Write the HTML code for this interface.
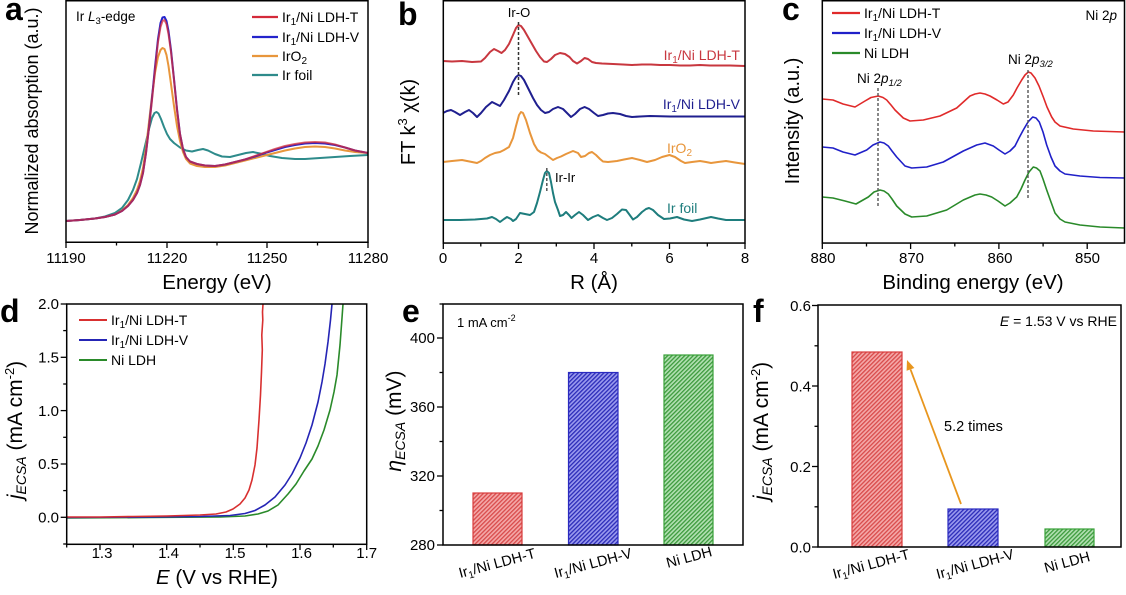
<!DOCTYPE html>
<html><head><meta charset="utf-8"><style>
html,body{margin:0;padding:0;background:#fff;}
svg{display:block;font-family:"Liberation Sans",Arial,sans-serif;}
</style></head><body>
<svg width="1126" height="595" viewBox="0 0 1126 595" xmlns="http://www.w3.org/2000/svg">
<defs>
<pattern id="hR" patternUnits="userSpaceOnUse" width="3" height="3" patternTransform="rotate(45)"><rect width="3" height="3" fill="#f4a8a8"/><rect width="1.3" height="3" fill="#d84a4a"/></pattern>
<pattern id="hB" patternUnits="userSpaceOnUse" width="3" height="3" patternTransform="rotate(45)"><rect width="3" height="3" fill="#9a9aee"/><rect width="1.3" height="3" fill="#2a2ab8"/></pattern>
<pattern id="hG" patternUnits="userSpaceOnUse" width="3" height="3" patternTransform="rotate(45)"><rect width="3" height="3" fill="#b2e0b2"/><rect width="1.3" height="3" fill="#3c9a3c"/></pattern>
</defs>
<rect width="1126" height="595" fill="#fff"/>

<!-- ============ Panel a ============ -->
<g fill="none" stroke-width="2" stroke-linejoin="round">
<polyline stroke="#2e8b8b" points="66,221 80,220 95,218.5 105,216.5 115,213 122,208 128,200 133,190 137,179 141,163 145,146 149,129 152,118 154.5,113 156.5,112 158.5,113.5 161,119 164,127 167,134 170,139 174,143 180,147.5 186,150.5 192,151.5 198,150 203,149 208,150.5 215,154 222,156.5 230,157 238,155 246,153 253,152 260,153.5 270,156 282,158 295,159 305,159 320,158 335,157 350,156 368,155"/>
<polyline stroke="#e8963c" points="66,221 80,220 95,218.5 105,217 115,214.5 122,210.5 128,205 133,198 137,190 140,181 143,168 146,148 149,122 152,96 155,73 158,57 160.5,50 162.5,48 164.5,49 166.5,55 168.5,66 171,84 174,106 177,126 180,141 183,152 186,159 190,163.5 197,166 205,167 215,167 225,165.5 235,163 245,160.5 255,158 265,155.5 275,153 285,150.5 295,148.5 305,147 315,146.5 325,147 335,148.5 345,150.5 355,152 368,153"/>
<polyline stroke="#2424cc" points="66,221 80,220 95,218.5 105,217 115,214.5 122,211 128,206 133,200 137,193 140,185 143,173 146,153 149,127 152,98 155,67 158,39 160.5,23 162.5,17.5 164.5,17 166.5,21 168.5,31 171,50 174,79 177,109 180,134 183,149 186,157 190,161.5 197,164 205,165.5 215,166 225,164.5 235,162 245,159.5 255,156.5 265,153 275,150 285,147 295,145 305,143.5 315,143 325,143.5 335,145 345,147.5 355,150.5 368,153"/>
<polyline stroke="#d42a3a" stroke-opacity="0.75" points="66,221 80,220 95,218.5 105,217 115,214.5 122,211 128,206 133,200 137,193 140,185 143,173 146,153 149,128 152,100 155,70 158,42 160.5,27 162.5,21 164.5,20 166.5,24 168.5,34 171,52 174,80 177,110 180,134 183,149 186,157 190,161.5 197,164 205,165.5 215,166 225,164.5 235,162 245,159.5 255,156 265,152.5 275,149 285,146 295,144 305,142.5 315,142 325,142.5 335,144.5 345,147.5 355,150.5 368,153"/>
</g>
<rect x="66" y="0.75" width="302" height="241.5" fill="none" stroke="#000" stroke-width="1.5"/>
<g stroke="#000" stroke-width="1.3">
<line x1="66" y1="242" x2="66" y2="248"/><line x1="167" y1="242" x2="167" y2="248"/><line x1="267" y1="242" x2="267" y2="248"/><line x1="368" y1="242" x2="368" y2="248"/>
<line x1="116.5" y1="242" x2="116.5" y2="245.5"/><line x1="217" y1="242" x2="217" y2="245.5"/><line x1="317.5" y1="242" x2="317.5" y2="245.5"/>
</g>
<g font-size="15" text-anchor="middle" fill="#000">
<text x="66" y="263">11190</text><text x="167" y="263">11220</text><text x="267" y="263">11250</text><text x="368" y="263">11280</text>
</g>
<text x="217" y="289" font-size="20.5" text-anchor="middle">Energy (eV)</text>
<text transform="translate(32,121) rotate(-90)" font-size="18" text-anchor="middle" dy="6">Normalized absorption (a.u.)</text>
<text x="76" y="21" font-size="13.5">Ir <tspan font-style="italic">L</tspan><tspan dy="3" font-size="9.5">3</tspan><tspan dy="-3">-edge</tspan></text>
<g stroke-width="2.2">
<line x1="252" y1="17" x2="278" y2="17" stroke="#d42a3a"/>
<line x1="252" y1="37" x2="278" y2="37" stroke="#2424cc"/>
<line x1="252" y1="56" x2="278" y2="56" stroke="#e8963c"/>
<line x1="252" y1="75" x2="278" y2="75" stroke="#2e8b8b"/>
</g>
<g font-size="14">
<text x="282" y="22">Ir<tspan dy="3" font-size="10">1</tspan><tspan dy="-3">/Ni LDH-T</tspan></text>
<text x="282" y="42">Ir<tspan dy="3" font-size="10">1</tspan><tspan dy="-3">/Ni LDH-V</tspan></text>
<text x="282" y="61">IrO<tspan dy="3" font-size="10">2</tspan></text>
<text x="282" y="80">Ir foil</text>
</g>
<text x="5" y="20" font-size="32" font-weight="bold">a</text>

<!-- ============ Panel b ============ -->
<g fill="none" stroke-width="2" stroke-linejoin="round">
<polyline stroke="#c8373f" points="443,61 452,61.5 462,61 472,62 481,61.5 485,58 490,52 494,49 498,51 501.5,53 505,50 509,44 513,35 516,28 518.5,25 521,26 524,30 528,37 532,44 536,51 540,57 544,61.5 547,62 551,59 555,55 560,53 565,54 569.5,57 573,61 577,63.5 581,61 584.6,58 588,59 592,62 596,63 602,63.5 613,64 623,64.5 632,65 642,64.5 651,64.5 660,65 670,65 680,65.5 690,65.5 700,65 710,65.5 720,65.5 730,65.5 745,66"/>
<polyline stroke="#1f1f8f" points="443,113 447,111 451,110 455,112 460,115 465,112 469,110 473,113 477,117 481,113 486,107 492,102 496,104 500,106 504,100 509,91 513,82 516,77 518.5,75 521,76 524,80 528,88 533,98 537,105 541,110 545,113 549,112 553,109 558,107 563,109 567,113 571,117 575,114 580,109 584.6,107 589,109 594,113 598,116 603,115 608,113.5 613,113 620,114 626,116 632,117 640,116.5 650,116 670,116.5 690,116.5 710,116.5 745,116.5"/>
<polyline stroke="#e8963c" points="443,162 452,161 462,160 472,162 477,163 481,161 485,158 490,155 495,153 500,152 504,150 509,147 513,138 516,126 519,115 521,112 523,113 526,120 530,133 534,144 537.5,150 541,152.5 545,154 549,157 553,160 557,158 561,156.5 566,154 573,151 578,153 581,157 585,156 589,153 592,152 596,155 600,159 603,161.5 608,162 617,161 624,159.5 632,158 640,160 647,162 655,160 662,157 669.5,155 675,157 681,161 685,163 692,162 700,161 706,162 711,163 718,162 726,161 735,162.5 745,164"/>
<polyline stroke="#1e7d7d" points="443,220 460,220 475,219.5 481,219 487,218.5 492,217 496,219 500,222 504,219 507,217 511,219 513,221 516,219 520,213 525,214 530,215 534,212 537,203 540,192 543,180 545,173 546.8,171 549,173 551,182 553,193 555,202 558,210 560,216 563,215 566,212 569,215 571.5,218 575,215 579,212 583,215 588,220 593,217 598,215 603,218 607,220 612,218 617,214 622,209.5 626,210 629,214 633,219.5 637,217 642,212 646,209 649,208 653,210 658,215 664,219 670,218.5 677,217 684,219.5 692,221 700,219.5 711,217 718,218.5 726,220 735,220 745,220"/>
</g>
<line x1="518.5" y1="22" x2="518.5" y2="95" stroke="#333" stroke-width="1.5" stroke-dasharray="3,2"/>
<line x1="546.8" y1="168" x2="546.8" y2="193" stroke="#555" stroke-width="1.5" stroke-dasharray="3,2"/>
<text x="519" y="17" font-size="13" text-anchor="middle">Ir-O</text>
<text x="555" y="182" font-size="13">Ir-Ir</text>
<g font-size="14">
<text x="740" y="60" text-anchor="end" fill="#c8373f">Ir<tspan dy="3" font-size="10">1</tspan><tspan dy="-3">/Ni LDH-T</tspan></text>
<text x="740" y="109" text-anchor="end" fill="#1f1f8f">Ir<tspan dy="3" font-size="10">1</tspan><tspan dy="-3">/Ni LDH-V</tspan></text>
<text x="667" y="153" fill="#e8963c">IrO<tspan dy="3" font-size="10">2</tspan></text>
<text x="667" y="213" fill="#1e7d7d">Ir  foil</text>
</g>
<rect x="443.3" y="0.75" width="301.7" height="242.3" fill="none" stroke="#000" stroke-width="1.5"/>
<g stroke="#000" stroke-width="1.3">
<line x1="443.3" y1="243" x2="443.3" y2="249"/><line x1="518.5" y1="243" x2="518.5" y2="249"/><line x1="594" y1="243" x2="594" y2="249"/><line x1="669.5" y1="243" x2="669.5" y2="249"/><line x1="745" y1="243" x2="745" y2="249"/>
<line x1="480.8" y1="243" x2="480.8" y2="246.5"/><line x1="556.3" y1="243" x2="556.3" y2="246.5"/><line x1="631.8" y1="243" x2="631.8" y2="246.5"/><line x1="707.3" y1="243" x2="707.3" y2="246.5"/>
</g>
<g font-size="15" text-anchor="middle">
<text x="443" y="263">0</text><text x="518.5" y="263">2</text><text x="594" y="263">4</text><text x="669.5" y="263">6</text><text x="745" y="263">8</text>
</g>
<text x="594" y="289" font-size="20.5" text-anchor="middle">R (Å)</text>
<text transform="translate(408,122) rotate(-90)" font-size="20" text-anchor="middle" dy="7">FT k<tspan dy="-8" font-size="13">3</tspan><tspan dy="8"> χ(k)</tspan></text>
<text x="398" y="25" font-size="32" font-weight="bold">b</text>

<!-- ============ Panel c ============ -->
<g fill="none" stroke-width="1.6" stroke-linejoin="round">
<polyline stroke="#e02a2a" points="822.3,99 833,100 843,104 855,107 865,101 871,97.5 878.3,96 883,97.5 886.7,100 891,105 895,110 903.3,118 910,121 923.3,120 940,116 956.7,108 970,96 975,94 980,93 985,94 990,96 997,100 1003.3,104 1008,102 1013.3,95 1017,88 1021.7,80 1025,75 1028.3,72 1031,73 1035,78 1039,86 1043.3,97 1047,107 1051.7,117 1055,122 1060,126 1073.3,129 1093.3,131 1124.5,132"/>
<polyline stroke="#2020c8" points="822.3,147 833,148 843,152 855,155 866.7,150 873,145 880,142 884,143 888.3,146 892,151 896.7,157 905,166 911.7,168 926.7,167 943.3,162 963.3,151 976.7,145 985,143 993.3,146 999,150 1005,154 1010,151 1015,146 1019,138 1023.3,130 1028,122 1032.7,117 1036,118 1039.3,122 1043,132 1046.7,145 1051,157 1055,166 1060,171 1065,174 1080,176 1100,177.5 1124.5,178"/>
<polyline stroke="#2a8a2a" points="822.3,197 833,198 845,201 856,204 868.3,197 874,192 880,190 884,191 888.3,194 892,199 896.7,206 905,214 911.7,217 926.7,216 946.7,210 963.3,200 975,195 980,194 986,195 991.7,197 998,201 1005,206 1010,203 1016.7,197 1021,189 1025,180 1029,172 1033.3,167 1036.5,168 1040,171 1043,179 1046.7,190 1051,202 1055,213 1060,219 1065,222 1080,225 1100,227 1124.5,228"/>
</g>
<line x1="878" y1="88" x2="878" y2="207" stroke="#555" stroke-width="1.4" stroke-dasharray="3,2"/>
<line x1="1028" y1="70" x2="1028" y2="200" stroke="#555" stroke-width="1.4" stroke-dasharray="3,2"/>
<text x="857" y="83" font-size="13.5">Ni 2<tspan font-style="italic">p</tspan><tspan dy="3" font-size="9.5" font-style="italic">1/2</tspan></text>
<text x="1008" y="64" font-size="13.5">Ni 2<tspan font-style="italic">p</tspan><tspan dy="3" font-size="9.5" font-style="italic">3/2</tspan></text>
<text x="1117" y="20" font-size="13.5" text-anchor="end">Ni 2<tspan font-style="italic">p</tspan></text>
<g stroke-width="2.2">
<line x1="832" y1="13" x2="860" y2="13" stroke="#e02a2a"/>
<line x1="832" y1="33" x2="860" y2="33" stroke="#2020c8"/>
<line x1="832" y1="53" x2="860" y2="53" stroke="#2a8a2a"/>
</g>
<g font-size="14">
<text x="864" y="18">Ir<tspan dy="3" font-size="10">1</tspan><tspan dy="-3">/Ni LDH-T</tspan></text>
<text x="864" y="38">Ir<tspan dy="3" font-size="10">1</tspan><tspan dy="-3">/Ni LDH-V</tspan></text>
<text x="864" y="58">Ni LDH</text>
</g>
<rect x="822.3" y="0.75" width="302.2" height="242.3" fill="none" stroke="#000" stroke-width="1.5"/>
<g stroke="#000" stroke-width="1.3">
<line x1="822.3" y1="243" x2="822.3" y2="249"/><line x1="910.6" y1="243" x2="910.6" y2="249"/><line x1="998.9" y1="243" x2="998.9" y2="249"/><line x1="1087.2" y1="243" x2="1087.2" y2="249"/>
<line x1="866.5" y1="243" x2="866.5" y2="246.5"/><line x1="954.8" y1="243" x2="954.8" y2="246.5"/><line x1="1043.1" y1="243" x2="1043.1" y2="246.5"/>
</g>
<g font-size="15" text-anchor="middle">
<text x="823" y="263">880</text><text x="911.5" y="263">870</text><text x="1000" y="263">860</text><text x="1087.5" y="263">850</text>
</g>
<text x="973" y="289" font-size="20.5" text-anchor="middle">Binding energy (eV)</text>
<text transform="translate(792,121) rotate(-90)" font-size="20" text-anchor="middle" dy="7">Intensity (a.u.)</text>
<text x="782" y="20" font-size="32" font-weight="bold">c</text>

<!-- ============ Panel d ============ -->
<g fill="none" stroke-width="1.6" stroke-linejoin="round">
<polyline stroke="#2a8a2a" points="66.7,518 150,517.5 220,517 245,516 258,514 268,511 278,505 288,494 296,484 304,471 312,459 318,446 324,430 330,410 334,392 337,375 340,345 342,318 343,304"/>
<polyline stroke="#2525b5" points="66.7,517.5 150,517 200,516.5 230,515.5 245,513.5 255,510.5 265,505 275,497 285,485 292,474 300,458 306,443 312,425 318,402 322,382 325,364 328,342 330.5,320 332,304"/>
<polyline stroke="#d83030" points="66.7,517 100,517 133,516.5 166.7,516 200,515 216,514 226,512 233,509 240,504 245,498 249,490 252,480 255,465 257,448 259,420 260.5,395 261.5,372 262.3,350 261.8,335 262.8,320 262.5,312 263,304"/>
</g>
<g stroke-width="2">
<line x1="79" y1="320" x2="107" y2="320" stroke="#d83030"/>
<line x1="79" y1="340" x2="107" y2="340" stroke="#2525b5"/>
<line x1="79" y1="360" x2="107" y2="360" stroke="#2a8a2a"/>
</g>
<g font-size="14">
<text x="111" y="325">Ir<tspan dy="3" font-size="10">1</tspan><tspan dy="-3">/Ni LDH-T</tspan></text>
<text x="111" y="345">Ir<tspan dy="3" font-size="10">1</tspan><tspan dy="-3">/Ni LDH-V</tspan></text>
<text x="111" y="365">Ni LDH</text>
</g>
<rect x="66.7" y="304" width="300" height="240.3" fill="none" stroke="#000" stroke-width="1.5"/>
<g stroke="#000" stroke-width="1.3">
<line x1="100" y1="544" x2="100" y2="550"/><line x1="166.7" y1="544" x2="166.7" y2="550"/><line x1="233.3" y1="544" x2="233.3" y2="550"/><line x1="300" y1="544" x2="300" y2="550"/><line x1="366.7" y1="544" x2="366.7" y2="550"/>
<line x1="66.7" y1="544" x2="66.7" y2="547.5"/><line x1="133.3" y1="544" x2="133.3" y2="547.5"/><line x1="200" y1="544" x2="200" y2="547.5"/><line x1="266.7" y1="544" x2="266.7" y2="547.5"/><line x1="333.3" y1="544" x2="333.3" y2="547.5"/>
<line x1="66.7" y1="517.3" x2="60.7" y2="517.3"/><line x1="66.7" y1="464" x2="60.7" y2="464"/><line x1="66.7" y1="410.6" x2="60.7" y2="410.6"/><line x1="66.7" y1="357.3" x2="60.7" y2="357.3"/><line x1="66.7" y1="304" x2="60.7" y2="304"/>
<line x1="66.7" y1="544" x2="63.2" y2="544"/><line x1="66.7" y1="490.6" x2="63.2" y2="490.6"/><line x1="66.7" y1="437.3" x2="63.2" y2="437.3"/><line x1="66.7" y1="384" x2="63.2" y2="384"/><line x1="66.7" y1="330.6" x2="63.2" y2="330.6"/>
</g>
<g font-size="15" text-anchor="middle">
<text x="102" y="558">1.3</text><text x="168.5" y="558">1.4</text><text x="235" y="558">1.5</text><text x="301.5" y="558">1.6</text><text x="366.7" y="558">1.7</text>
</g>
<g font-size="15" text-anchor="end">
<text x="59" y="309">2.0</text><text x="59" y="362.5">1.5</text><text x="59" y="416">1.0</text><text x="59" y="469">0.5</text><text x="59" y="522.5">0.0</text>
</g>
<text x="217" y="584" font-size="20.5" text-anchor="middle"><tspan font-style="italic">E</tspan> (V vs RHE)</text>
<text transform="translate(16,430) rotate(-90)" font-size="21" text-anchor="middle" dy="6"><tspan font-style="italic">j</tspan><tspan dy="4" font-size="14" font-style="italic">ECSA</tspan><tspan dy="-4"> (mA cm</tspan><tspan dy="-8" font-size="13">-2</tspan><tspan dy="8">)</tspan></text>
<text x="0" y="322" font-size="32" font-weight="bold">d</text>

<!-- ============ Panel e ============ -->
<rect x="473" y="493" width="49" height="52" fill="url(#hR)" stroke="#d83c3c" stroke-width="1.2"/>
<rect x="568.5" y="372.5" width="49.5" height="172.5" fill="url(#hB)" stroke="#2a2ac0" stroke-width="1.2"/>
<rect x="664" y="355" width="49" height="190" fill="url(#hG)" stroke="#38a038" stroke-width="1.2"/>
<rect x="443" y="304" width="300" height="241" fill="none" stroke="#000" stroke-width="1.5"/>
<g stroke="#000" stroke-width="1.3">
<line x1="443" y1="545" x2="437" y2="545"/><line x1="443" y1="476" x2="437" y2="476"/><line x1="443" y1="407" x2="437" y2="407"/><line x1="443" y1="338" x2="437" y2="338"/>
<line x1="443" y1="510.5" x2="439.5" y2="510.5"/><line x1="443" y1="441.5" x2="439.5" y2="441.5"/><line x1="443" y1="372.5" x2="439.5" y2="372.5"/><line x1="443" y1="304" x2="439.5" y2="304"/>
</g>
<g font-size="15" text-anchor="end">
<text x="435" y="343">400</text><text x="435" y="412">360</text><text x="435" y="481">320</text><text x="435" y="550">280</text>
</g>
<text x="457" y="327" font-size="13">1 mA cm<tspan dy="-6" font-size="9">-2</tspan></text>
<g font-size="14.5" text-anchor="middle">
<text transform="translate(497,563) rotate(-15)" dy="5">Ir<tspan dy="3" font-size="10">1</tspan><tspan dy="-3">/Ni LDH-T</tspan></text>
<text transform="translate(593,563) rotate(-15)" dy="5">Ir<tspan dy="3" font-size="10">1</tspan><tspan dy="-3">/Ni LDH-V</tspan></text>
<text transform="translate(689,557) rotate(-15)" dy="5">Ni LDH</text>
</g>
<text transform="translate(395,421) rotate(-90)" font-size="21" text-anchor="middle" dy="6"><tspan font-style="italic">η</tspan><tspan dy="4" font-size="14" font-style="italic">ECSA</tspan><tspan dy="-4"> (mV)</tspan></text>
<text x="402" y="322" font-size="32" font-weight="bold">e</text>

<!-- ============ Panel f ============ -->
<rect x="852" y="352" width="50" height="195" fill="url(#hR)" stroke="#d83c3c" stroke-width="1.2"/>
<rect x="948" y="509" width="50" height="38" fill="url(#hB)" stroke="#2a2ac0" stroke-width="1.2"/>
<rect x="1045" y="529" width="49" height="18" fill="url(#hG)" stroke="#38a038" stroke-width="1.2"/>
<line x1="961" y1="504" x2="910.5" y2="369.4" stroke="#e8961e" stroke-width="1.8"/>
<polygon points="907,360 914.4,368 906.6,370.8" fill="#e8961e"/>
<text x="944" y="431" font-size="14.5">5.2 times</text>
<text x="1117" y="326" font-size="14" text-anchor="end"><tspan font-style="italic">E</tspan> = 1.53 V vs RHE</text>
<rect x="818" y="305" width="303" height="242" fill="none" stroke="#000" stroke-width="1.5"/>
<g stroke="#000" stroke-width="1.3">
<line x1="818" y1="547" x2="812" y2="547"/><line x1="818" y1="466.5" x2="812" y2="466.5"/><line x1="818" y1="386" x2="812" y2="386"/><line x1="818" y1="305.5" x2="812" y2="305.5"/>
<line x1="818" y1="506.8" x2="814.5" y2="506.8"/><line x1="818" y1="426.3" x2="814.5" y2="426.3"/><line x1="818" y1="345.8" x2="814.5" y2="345.8"/>
</g>
<g font-size="15" text-anchor="end">
<text x="811" y="311">0.6</text><text x="811" y="391.5">0.4</text><text x="811" y="472">0.2</text><text x="811" y="552.5">0.0</text>
</g>
<g font-size="14.5" text-anchor="middle">
<text transform="translate(871,564) rotate(-15)" dy="5">Ir<tspan dy="3" font-size="10">1</tspan><tspan dy="-3">/Ni LDH-T</tspan></text>
<text transform="translate(975,564) rotate(-15)" dy="5">Ir<tspan dy="3" font-size="10">1</tspan><tspan dy="-3">/Ni LDH-V</tspan></text>
<text transform="translate(1067,562) rotate(-15)" dy="5">Ni LDH</text>
</g>
<text transform="translate(762,431) rotate(-90)" font-size="21" text-anchor="middle" dy="6"><tspan font-style="italic">j</tspan><tspan dy="4" font-size="14" font-style="italic">ECSA</tspan><tspan dy="-4"> (mA cm</tspan><tspan dy="-8" font-size="13">-2</tspan><tspan dy="8">)</tspan></text>
<text x="753" y="322" font-size="32" font-weight="bold">f</text>
</svg>
</body></html>
